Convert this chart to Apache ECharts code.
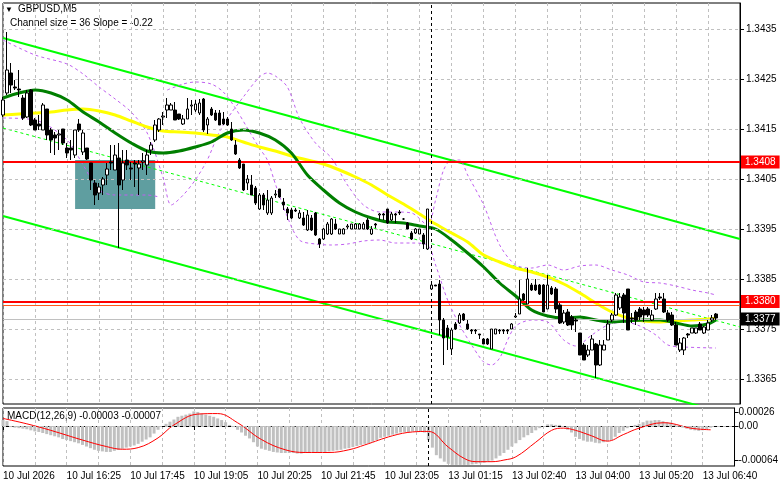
<!DOCTYPE html>
<html>
<head>
<meta charset="utf-8">
<script src="https://cdn.jsdelivr.net/npm/echarts@6/dist/echarts.min.js"></script>
<style>
  html, body { margin: 0; padding: 0; background: #fff; }
  #main { width: 781px; height: 489px; }
</style>
</head>
<body>
<div id="main"></div>
<script>
// GBPUSD M5, bars: [open, high, low, close]
const bars = [
  [1.34178,1.34214,1.34174,1.34208],[1.34222,1.34344,1.34218,1.34268],[1.34262,1.34282,1.34222,1.34238],[1.34234,1.34248,1.34228,1.34232],
  [1.34230,1.34268,1.34214,1.34228],[1.34212,1.34218,1.34168,1.34172],[1.34174,1.34228,1.34172,1.34222],[1.34228,1.34230,1.34156,1.34158],
  [1.34168,1.34172,1.34148,1.34148],[1.34160,1.34178,1.34148,1.34156],[1.34148,1.34202,1.34148,1.34198],[1.34190,1.34190,1.34128,1.34138],
  [1.34148,1.34152,1.34102,1.34128],[1.34138,1.34144,1.34098,1.34132],[1.34138,1.34148,1.34108,1.34140],[1.34150,1.34150,1.34118,1.34122],
  [1.34112,1.34122,1.34092,1.34102],[1.34112,1.34128,1.34088,1.34108],[1.34098,1.34148,1.34092,1.34148],[1.34160,1.34170,1.34144,1.34148],
  [1.34104,1.34148,1.34098,1.34142],[1.34112,1.34112,1.34088,1.34090],[1.34082,1.34082,1.34028,1.34048],[1.34042,1.34048,1.33998,1.34018],
  [1.34022,1.34042,1.34008,1.34034],[1.34038,1.34054,1.34018,1.34050],[1.34058,1.34082,1.34038,1.34070],[1.34084,1.34118,1.34068,1.34082],
  [1.34068,1.34118,1.34068,1.34098],[1.34092,1.34122,1.33912,1.34038],[1.34048,1.34108,1.34028,1.34082],[1.34088,1.34108,1.34068,1.34078],
  [1.34072,1.34084,1.34048,1.34070],[1.34082,1.34088,1.34034,1.34080],[1.34072,1.34088,1.34018,1.34080],[1.34084,1.34102,1.34068,1.34086],
  [1.34078,1.34108,1.34058,1.34098],[1.34108,1.34124,1.34098,1.34118],[1.34128,1.34168,1.34124,1.34158],[1.34148,1.34172,1.34144,1.34170],
  [1.34174,1.34184,1.34158,1.34176],[1.34188,1.34212,1.34172,1.34198],[1.34188,1.34202,1.34188,1.34198],[1.34188,1.34204,1.34168,1.34168],
  [1.34180,1.34180,1.34168,1.34170],[1.34160,1.34178,1.34158,1.34170],[1.34170,1.34212,1.34170,1.34190],[1.34196,1.34208,1.34178,1.34198],
  [1.34188,1.34208,1.34184,1.34200],[1.34182,1.34210,1.34178,1.34202],[1.34210,1.34212,1.34144,1.34148],[1.34158,1.34174,1.34140,1.34170],
  [1.34190,1.34194,1.34176,1.34178],[1.34182,1.34188,1.34166,1.34168],[1.34182,1.34188,1.34158,1.34158],[1.34170,1.34184,1.34158,1.34160],
  [1.34170,1.34174,1.34156,1.34158],[1.34150,1.34164,1.34126,1.34128],[1.34118,1.34128,1.34098,1.34100],[1.34088,1.34092,1.34070,1.34072],
  [1.34080,1.34080,1.34026,1.34028],[1.34042,1.34058,1.34028,1.34050],[1.34038,1.34058,1.34018,1.34018],[1.34032,1.34036,1.33998,1.34002],
  [1.33990,1.34022,1.33988,1.34018],[1.34018,1.34022,1.33988,1.33998],[1.33982,1.34028,1.33978,1.34008],[1.33982,1.34016,1.33978,1.34012],
  [1.34018,1.34028,1.34012,1.34020],[1.34030,1.34030,1.34012,1.34014],[1.34004,1.34012,1.33988,1.33998],[1.33990,1.33994,1.33968,1.33982],
  [1.33988,1.33992,1.33970,1.33972],[1.33988,1.33992,1.33984,1.33986],[1.33972,1.33988,1.33970,1.33982],[1.33972,1.33984,1.33956,1.33958],
  [1.33948,1.33988,1.33946,1.33978],[1.33972,1.33978,1.33946,1.33948],[1.33982,1.33984,1.33936,1.33938],[1.33930,1.33932,1.33912,1.33920],
  [1.33930,1.33952,1.33928,1.33950],[1.33940,1.33964,1.33938,1.33960],[1.33940,1.33972,1.33938,1.33970],[1.33960,1.33970,1.33948,1.33950],
  [1.33940,1.33950,1.33940,1.33950],[1.33940,1.33952,1.33940,1.33950],[1.33954,1.33960,1.33950,1.33956],[1.33950,1.33960,1.33950,1.33960],
  [1.33950,1.33962,1.33950,1.33960],[1.33950,1.33962,1.33950,1.33960],[1.33950,1.33964,1.33950,1.33960],[1.33968,1.33972,1.33948,1.33950],
  [1.33940,1.33956,1.33938,1.33950],[1.33960,1.33962,1.33952,1.33958],[1.33978,1.33982,1.33968,1.33980],[1.33980,1.33982,1.33968,1.33978],
  [1.33990,1.33990,1.33960,1.33962],[1.33968,1.33984,1.33966,1.33980],[1.33980,1.33982,1.33962,1.33978],[1.33984,1.33988,1.33978,1.33982],
  [1.33970,1.33972,1.33968,1.33970],[1.33962,1.33964,1.33950,1.33950],[1.33942,1.33946,1.33928,1.33930],[1.33942,1.33952,1.33940,1.33950],
  [1.33940,1.33950,1.33940,1.33950],[1.33938,1.33942,1.33910,1.33920],[1.33910,1.33990,1.33908,1.33990],[1.33830,1.33840,1.33830,1.33838],
  [1.33838,1.33838,1.33836,1.33836],[1.33840,1.33848,1.33738,1.33768],[1.33768,1.33772,1.33678,1.33732],[1.33752,1.33758,1.33708,1.33734],
  [1.33710,1.33752,1.33698,1.33748],[1.33760,1.33764,1.33748,1.33750],[1.33762,1.33782,1.33760,1.33778],[1.33780,1.33782,1.33766,1.33768],
  [1.33760,1.33768,1.33748,1.33750],[1.33748,1.33750,1.33740,1.33746],[1.33748,1.33750,1.33740,1.33746],[1.33740,1.33740,1.33730,1.33738],
  [1.33730,1.33732,1.33720,1.33720],[1.33730,1.33732,1.33718,1.33720],[1.33710,1.33750,1.33710,1.33750],[1.33740,1.33750,1.33740,1.33750],
  [1.33748,1.33750,1.33740,1.33746],[1.33748,1.33750,1.33740,1.33746],[1.33748,1.33750,1.33740,1.33746],[1.33750,1.33762,1.33750,1.33760],
  [1.33774,1.33782,1.33772,1.33776],[1.33780,1.33848,1.33780,1.33810],[1.33820,1.33822,1.33806,1.33808],[1.33800,1.33872,1.33800,1.33850],
  [1.33838,1.33842,1.33826,1.33828],[1.33838,1.33850,1.33826,1.33828],[1.33838,1.33840,1.33818,1.33820],[1.33838,1.33840,1.33784,1.33784],
  [1.33790,1.33858,1.33790,1.33838],[1.33832,1.33836,1.33818,1.33820],[1.33830,1.33834,1.33782,1.33790],[1.33798,1.33802,1.33760,1.33762],
  [1.33764,1.33788,1.33760,1.33782],[1.33784,1.33790,1.33756,1.33758],[1.33774,1.33778,1.33748,1.33758],[1.33768,1.33772,1.33744,1.33766],
  [1.33742,1.33742,1.33698,1.33698],[1.33718,1.33722,1.33688,1.33688],[1.33698,1.33718,1.33694,1.33708],[1.33708,1.33738,1.33708,1.33730],
  [1.33720,1.33722,1.33652,1.33678],[1.33678,1.33728,1.33676,1.33718],[1.33708,1.33728,1.33708,1.33718],[1.33728,1.33768,1.33728,1.33760],
  [1.33768,1.33782,1.33764,1.33778],[1.33778,1.33822,1.33776,1.33818],[1.33792,1.33822,1.33788,1.33814],[1.33818,1.33822,1.33762,1.33782],
  [1.33830,1.33830,1.33748,1.33748],[1.33772,1.33782,1.33762,1.33770],[1.33784,1.33788,1.33758,1.33768],[1.33790,1.33794,1.33768,1.33774],
  [1.33788,1.33794,1.33764,1.33778],[1.33790,1.33794,1.33774,1.33778],[1.33768,1.33788,1.33766,1.33778],[1.33790,1.33822,1.33788,1.33810],
  [1.33814,1.33822,1.33808,1.33812],[1.33810,1.33822,1.33782,1.33784],[1.33782,1.33788,1.33764,1.33768],[1.33778,1.33784,1.33756,1.33758],
  [1.33758,1.33764,1.33718,1.33718],[1.33708,1.33732,1.33704,1.33722],[1.33708,1.33734,1.33698,1.33732],[1.33740,1.33742,1.33732,1.33738],
  [1.33742,1.33752,1.33742,1.33752],[1.33742,1.33752,1.33740,1.33752],[1.33760,1.33764,1.33748,1.33748],[1.33742,1.33756,1.33740,1.33754],
  [1.33748,1.33768,1.33748,1.33762],[1.33768,1.33778,1.33764,1.33772],[1.33780,1.33782,1.33768,1.33772]
];
const barSlots = 185;   // chart keeps a few empty slots on the right

const tickLabels = ['10 Jul 2026','10 Jul 16:25','10 Jul 17:45','10 Jul 19:05','10 Jul 20:25','10 Jul 21:45',
  '10 Jul 23:05','13 Jul 01:15','13 Jul 02:40','13 Jul 04:00','13 Jul 05:20','13 Jul 06:40'];
const priceTicks = [1.3365, 1.3375, 1.3385, 1.3395, 1.3405, 1.3415, 1.3425, 1.3435];
const macdTicks = [0.00026, 0, -0.00064];

// moving averages, read every few bars: [bar, price]
const maFast = [[0,1.34212],[4,1.34222],[8,1.34228],[12,1.34222],[16,1.34208],[20,1.34184],[24,1.34164],[28,1.34142],
  [32,1.34122],[36,1.34106],[40,1.34102],[44,1.34106],[48,1.34114],[52,1.34124],[56,1.34142],[60,1.34148],[64,1.34142],
  [68,1.34128],[72,1.34102],[76,1.34058],[80,1.34028],[84,1.34002],[88,1.33984],[92,1.33972],[96,1.33964],[100,1.33962],
  [104,1.33956],[108,1.33950],[112,1.33928],[116,1.33902],[120,1.33874],[124,1.33842],[128,1.33816],[132,1.33788],
  [136,1.33776],[140,1.33772],[144,1.33774],[148,1.33768],[152,1.33764],[156,1.33766],[160,1.33768],[164,1.33768],
  [168,1.33762],[172,1.33756],[176,1.33760],[178,1.33768]];
const maSlow = [[0,1.34178],[4,1.34180],[8,1.34182],[12,1.34184],[16,1.34188],[20,1.34190],[24,1.34186],[28,1.34178],
  [32,1.34166],[36,1.34154],[40,1.34146],[44,1.34144],[48,1.34142],[52,1.34138],[56,1.34134],[60,1.34124],[64,1.34114],
  [68,1.34106],[72,1.34096],[76,1.34088],[80,1.34080],[84,1.34068],[88,1.34054],[92,1.34038],[96,1.34018],[100,1.34000],
  [104,1.33980],[108,1.33960],[112,1.33942],[116,1.33924],[120,1.33898],[124,1.33884],[128,1.33872],[132,1.33864],
  [136,1.33854],[140,1.33840],[144,1.33822],[148,1.33802],[152,1.33784],[156,1.33772],[160,1.33766],[164,1.33764],
  [168,1.33766],[172,1.33768],[176,1.33770],[178,1.33772]];

// purple dashed envelopes
const bandUpper = [[0,1.34328],[8,1.34298],[16,1.34280],[20,1.34260],[24,1.34234],[28,1.34210],[32,1.34184],[36,1.34142],
  [40,1.34052],[42,1.33998],[45,1.34018],[48,1.34048],[51,1.34088],[54,1.34144],[57,1.34182],[60,1.34214],[64,1.34254],
  [66,1.34262],[68,1.34256],[71,1.34234],[74,1.34172],[78,1.34122],[82,1.34092],[86,1.34038],[90,1.33998],[94,1.33984],
  [98,1.33984],[102,1.33982],[106,1.33958],[108,1.34008],[110,1.34068],[112,1.34088],[114,1.34088],[116,1.34058],
  [120,1.33998],[124,1.33918],[128,1.33878],[132,1.33872],[136,1.33878],[140,1.33868],[144,1.33876],[148,1.33878],
  [152,1.33868],[156,1.33858],[160,1.33844],[164,1.33842],[168,1.33836],[172,1.33828],[176,1.33822],[178,1.33818]];
const bandLower = [[0,1.34172],[8,1.34168],[16,1.34128],[20,1.34078],[24,1.34028],[28,1.34018],[32,1.34018],[36,1.34018],
  [39,1.34014],[40,null],[41,1.34228],[45,1.34240],[48,1.34244],[52,1.34240],[55,1.34224],[58,1.34192],[61,1.34152],
  [64,1.34112],[66,1.34088],[68,1.34040],[71,1.33974],[74,1.33928],[78,1.33920],[82,1.33918],[86,1.33920],[90,1.33926],
  [94,1.33928],[98,1.33922],[102,1.33922],[106,1.33918],[108,1.33878],[111,1.33808],[114,1.33758],[117,1.33718],
  [120,1.33684],[122,1.33678],[124,1.33692],[126,1.33728],[128,1.33756],[132,1.33768],[136,1.33764],[140,1.33728],
  [143,1.33716],[147,1.33738],[151,1.33758],[155,1.33764],[159,1.33756],[163,1.33738],[166,1.33718],[170,1.33714],[178,1.33712]];

// regression channel ends (first slot, last slot)
const channelTop = [1.34332, 1.33930];
const channelMid = [1.34152, 1.33754];
const channelBottom = [1.33976, 1.33574];

// horizontal levels and the marked zone
const levelPrices = [1.34084, 1.33805, 1.3377];
const levelLabels = ['1.3408', '1.3380', '1.3377'];
const secondLevel = 1.33798;
const zoneBars = [18, 38];
const zonePrices = [1.34088, 1.33990];
const sessionBar = 107;

// MACD(12,26,9)
const macdHist = [
  0.00011,0.00009,-0.00002,-0.00003,-0.00004,-0.00005,-0.00006,-0.00008,
  -0.0001,-0.00011,-0.00013,-0.00015,-0.00017,-0.00019,-0.00021,-0.00024,
  -0.00026,-0.00028,-0.0003,-0.00032,-0.00035,-0.00038,-0.00041,-0.00044,
  -0.00046,-0.00047,-0.00048,-0.00048,-0.00046,-0.00044,-0.00042,-0.0004,
  -0.00038,-0.00036,-0.00033,-0.00029,-0.00025,-0.00021,-0.00014,-0.00007,
  0,0.00004,0.00008,0.00012,0.00017,0.00019,0.00021,0.00023,
  0.00027,0.00026,0.00023,0.00021,0.00019,0.00017,0.00014,0.00011,
  0.00007,0.00002,-0.00002,-0.00007,-0.00012,-0.00018,-0.00023,-0.0003,
  -0.00038,-0.00042,-0.00044,-0.00046,-0.00048,-0.00049,-0.0005,-0.0005,
  -0.0005,-0.0005,-0.00051,-0.00051,-0.0005,-0.0005,-0.0005,-0.00049,
  -0.00048,-0.00048,-0.00047,-0.00046,-0.00045,-0.00044,-0.00042,-0.00041,
  -0.00039,-0.00037,-0.00035,-0.00033,-0.00032,-0.00029,-0.00026,-0.00022,
  -0.0002,-0.00018,-0.00016,-0.00014,-0.00012,-0.00011,-0.00011,-0.0001,
  -0.0001,-0.0001,-0.00012,
  -0.00026,-0.0004,-0.00054,-0.0006,-0.00066,-0.0007,-0.00072,-0.00072,
  -0.00072,-0.00072,-0.00072,-0.00071,-0.0007,-0.00069,-0.00068,-0.00066,
  -0.00064,-0.0006,-0.00055,-0.0005,-0.00044,-0.00038,-0.00032,-0.00026,
  -0.00021,-0.00017,-0.00013,-0.00008,-0.00004,0,0.00003,0.00003,
  0.00002,0.00002,0,-0.00007,-0.00012,-0.0002,-0.00024,-0.00027,
  -0.00029,-0.00029,-0.00031,-0.00032,-0.0003,-0.00028,-0.00026,-0.0002,
  -0.00013,-0.00009,-0.00004,0,0.00002,0.00004,0.00007,0.0001,
  0.0001,0.00011,0.00011,0.00009,0.00007,0.00006,0.00003,-0.00001,
  -0.00003,-0.00005,-0.00007,-0.00008,-0.00009,-0.00008,-0.00006,-0.00003
];
const macdSignal = [[0,0.00014],[6,0.00004],[12,-0.00008],[20,-0.00026],[26,-0.00038],[30,-0.00043],[34,-0.0004],
  [39,-0.00022],[43,0.00002],[49,0.00022],[54,0.00023],[59,0.00006],[65,-0.00025],[71,-0.00044],[76,-0.00049],
  [82,-0.00049],[87,-0.00044],[91,-0.00035],[98,-0.00018],[103,-0.00011],[107,-0.0001],[112,-0.00039],[116,-0.0006],
  [119,-0.00066],[123,-0.00066],[126,-0.00063],[129,-0.00057],[134,-0.0003],[138,-0.00008],[141,-0.00004],[144,-0.00008],
  [148,-0.00018],[152,-0.00028],[156,-0.00016],[160,-0.00004],[166,0.00006],[168,0.00005],[173,-0.00004],[178,-0.00007]];

const FONT = 'Liberation Sans';
const cats = [];
for (let i = 0; i < barSlots; i++) cats.push(String(i));
const pairs = arr => arr.map(p => [p[0], p[1] === null ? '-' : p[1]]);
const candleData = bars.map(b => [b[0], b[3], b[2], b[1]]);
const dashGray = { color: '#c0c0c0', type: [3, 3], width: 1 };

let myChart = echarts.init(document.getElementById('main'), null, { renderer: 'canvas' });

let option = {
  animation: false,
  backgroundColor: '#ffffff',
  textStyle: { fontFamily: FONT },
  grid: [
    { left: 3, right: 41, top: 3, height: 401, show: true, borderColor: '#000', borderWidth: 1, backgroundColor: '#fff' },
    { left: 3, right: 41, top: 408, height: 58, show: true, borderColor: '#000', borderWidth: 1, backgroundColor: '#fff' }
  ],
  xAxis: [
    {
      type: 'category', gridIndex: 0, data: cats, boundaryGap: false,
      axisLine: { show: false }, axisTick: { show: false }, axisLabel: { show: false },
      splitLine: { show: true, interval: 7, lineStyle: dashGray }
    },
    {
      type: 'category', gridIndex: 1, data: cats, boundaryGap: false,
      axisLine: { show: true, lineStyle: { color: '#000' } },
      axisTick: { show: true, interval: 15, length: 4, lineStyle: { color: '#000' } },
      axisLabel: {
        show: true, interval: 15, align: 'left', margin: 5, color: '#000', fontSize: 10, fontFamily: FONT,
        formatter: function (v, idx) { return tickLabels[idx / 16] || ''; }
      },
      splitLine: { show: true, interval: 7, lineStyle: dashGray }
    }
  ],
  yAxis: [
    {
      type: 'value', gridIndex: 0, position: 'right', min: 1.3360, max: 1.34402, scale: true,
      splitLine: { show: false },
      axisLine: { show: true, lineStyle: { color: '#000' } },
      axisTick: { show: true, length: 4, customValues: priceTicks, lineStyle: { color: '#000' } },
      axisLabel: {
        show: true, customValues: priceTicks, margin: 6, color: '#000', fontSize: 10, fontFamily: FONT,
        formatter: function (v) { return v.toFixed(4); }
      }
    },
    {
      type: 'value', gridIndex: 1, position: 'right', min: -0.00074, max: 0.000333,
      splitLine: { show: false },
      axisLine: { show: true, lineStyle: { color: '#000' } },
      axisTick: { show: true, length: 4, customValues: macdTicks, lineStyle: { color: '#000' } },
      axisLabel: {
        show: true, customValues: macdTicks, margin: 4, color: '#000', fontSize: 10, fontFamily: FONT,
        formatter: function (v) { return v === 0 ? '0.00' : v.toFixed(5); }
      }
    }
  ],
  graphic: [
    { type: 'text', left: 5, top: 6, style: { text: '\u25BC', fontSize: 8, fill: '#000' } },
    { type: 'text', left: 18, top: 4, style: { text: 'GBPUSD,M5', fontSize: 10, fontFamily: FONT, fill: '#000' } },
    { type: 'text', left: 10, top: 18, style: { text: 'Channel size = 36 Slope = -0.22', fontSize: 10, fontFamily: FONT, fill: '#000' } },
    { type: 'text', left: 7, top: 411, z: 100, style: { text: 'MACD(12,26,9) -0.00003 -0.00007', fontSize: 10, fontFamily: FONT, fill: '#000' } }
  ],
  series: [
    {
      // marked zone and price grid
      name: 'zone', type: 'line', xAxisIndex: 0, yAxisIndex: 0, data: [], z: 1, silent: true,
      markArea: {
        silent: true,
        itemStyle: { color: '#5f9ea0', opacity: 1 },
        data: [[{ xAxis: zoneBars[0], yAxis: zonePrices[0] }, { xAxis: zoneBars[1], yAxis: zonePrices[1] }]]
      },
      markLine: {
        silent: true, precision: 5, symbol: ['none', 'none'], label: { show: false },
        lineStyle: dashGray,
        data: priceTicks.map(v => ({ yAxis: v }))
      }
    },
    {
      name: 'channelTop', type: 'line', xAxisIndex: 0, yAxisIndex: 0, z: 2, symbol: 'none',
      data: [[0, channelTop[0]], [barSlots - 1, channelTop[1]]],
      lineStyle: { color: '#00ff00', width: 2 }
    },
    {
      name: 'channelMid', type: 'line', xAxisIndex: 0, yAxisIndex: 0, z: 2, symbol: 'none',
      data: [[0, channelMid[0]], [barSlots - 1, channelMid[1]]],
      lineStyle: { color: '#00ff00', width: 1, type: [3, 3] }
    },
    {
      name: 'channelBottom', type: 'line', xAxisIndex: 0, yAxisIndex: 0, z: 2, symbol: 'none',
      data: [[0, channelBottom[0]], [barSlots - 1, channelBottom[1]]],
      lineStyle: { color: '#00ff00', width: 2 }
    },
    {
      name: 'bandUpper', type: 'line', xAxisIndex: 0, yAxisIndex: 0, z: 3, symbol: 'none', smooth: 0.3,
      data: pairs(bandUpper), lineStyle: { color: '#c060f0', width: 1, type: [3, 3] }
    },
    {
      name: 'bandLower', type: 'line', xAxisIndex: 0, yAxisIndex: 0, z: 3, symbol: 'none', smooth: 0.3,
      connectNulls: false,
      data: pairs(bandLower), lineStyle: { color: '#c060f0', width: 1, type: [3, 3] }
    },
    {
      name: 'maSlow', type: 'line', xAxisIndex: 0, yAxisIndex: 0, z: 4, symbol: 'none', smooth: 0.3,
      data: maSlow, lineStyle: { color: '#ffff00', width: 3 }
    },
    {
      name: 'maFast', type: 'line', xAxisIndex: 0, yAxisIndex: 0, z: 4, symbol: 'none', smooth: 0.3,
      data: maFast, lineStyle: { color: '#007f00', width: 3 }
    },
    {
      name: 'levels', type: 'line', xAxisIndex: 0, yAxisIndex: 0, data: [], z: 5, silent: true,
      markLine: {
        silent: true, precision: 5, symbol: ['none', 'none'],
        label: { show: true, position: 'end', distance: 1, fontSize: 10, fontFamily: FONT, color: '#fff', padding: [2, 4, 1, 4] },
        data: [
          { yAxis: levelPrices[0], lineStyle: { color: '#ff0000', width: 2, type: 'solid' },
            label: { formatter: levelLabels[0], backgroundColor: '#ff0000' } },
          { yAxis: secondLevel, lineStyle: { color: '#ff5a1e', width: 1, type: 'solid' }, label: { show: false } },
          { yAxis: levelPrices[1], lineStyle: { color: '#ff0000', width: 2, type: 'solid' },
            label: { formatter: levelLabels[1], backgroundColor: '#ff0000' } },
          { yAxis: levelPrices[2], lineStyle: { color: '#c0c0c0', width: 1, type: 'solid' },
            label: { formatter: levelLabels[2], backgroundColor: '#000000' } },
          { xAxis: sessionBar, lineStyle: { color: '#000', width: 1, type: [3, 3] }, label: { show: false } }
        ]
      }
    },
    {
      name: 'GBPUSD', type: 'candlestick', xAxisIndex: 0, yAxisIndex: 0, z: 6,
      barWidth: 3,
      data: candleData,
      itemStyle: { color: '#ffffff', color0: '#000000', borderColor: '#000000', borderColor0: '#000000', borderWidth: 1 }
    },
    {
      name: 'MACD', type: 'bar', xAxisIndex: 1, yAxisIndex: 1, barWidth: 3, z: 2,
      data: macdHist, itemStyle: { color: '#c0c0c0' },
      markLine: {
        silent: true, precision: 6, symbol: ['none', 'none'], label: { show: false },
        data: [
          { yAxis: 0, lineStyle: dashGray },
          { xAxis: sessionBar, lineStyle: { color: '#000', width: 1, type: [3, 3] } }
        ]
      }
    },
    {
      name: 'Signal', type: 'line', xAxisIndex: 1, yAxisIndex: 1, z: 3, symbol: 'none', smooth: 0.4,
      data: macdSignal, lineStyle: { color: '#ff0000', width: 1 }
    }
  ]
};

myChart.setOption(option);
</script>
</body>
</html>
